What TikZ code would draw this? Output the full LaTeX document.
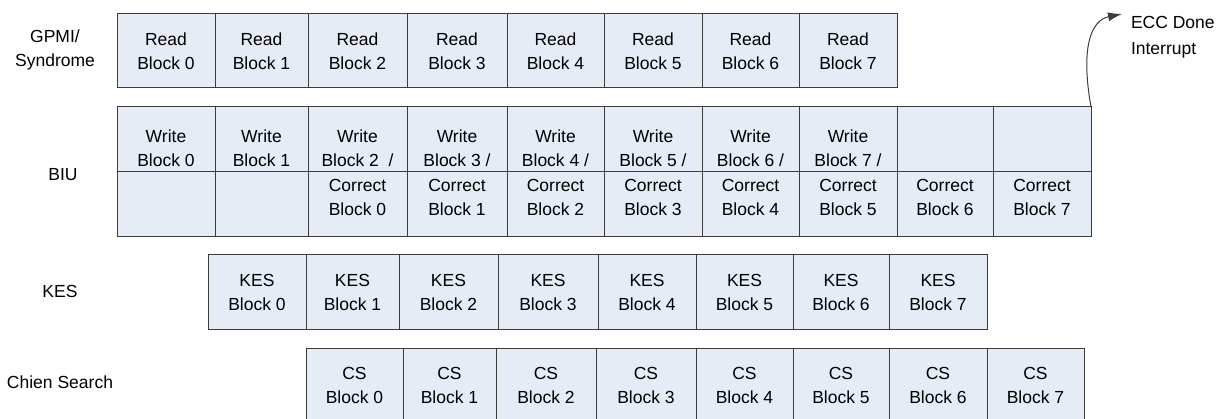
\documentclass[tikz,border=0pt]{standalone}
\usepackage{fontspec}
\setmainfont{Liberation Sans}
\usetikzlibrary{arrows.meta}
\definecolor{cellfill}{RGB}{230,236,246}
\definecolor{edgecol}{RGB}{60,60,60}
\begin{document}
\begin{tikzpicture}[x=1pt,y=-1pt,
  cell/.style={draw=edgecol, line width=1pt, fill=cellfill, inner sep=0pt, outer sep=0pt,
    align=center, font=\fontsize{17.5}{24}\selectfont},
  txt/.style={inner sep=0pt, outer sep=0pt, align=center, font=\fontsize{17.5}{24}\selectfont},
  conn/.style={draw=edgecol, line width=1pt}
  ]
\useasboundingbox (0,0) rectangle (1225,419);
\clip (0,0) rectangle (1225,419);

% GPMI / Syndrome row
\foreach \i/\a/\b in {0/117/215,1/215/308,2/308/407,3/407/507,4/507/604,5/604/702,6/702/799,7/799/897}
  \node[cell, minimum width={(\b-\a)*1pt}, minimum height=74pt] (rd\i) at ({(\a+\b)/2},51) {Read\\Block \i};

% BIU row
\foreach \i/\a/\b in {0/117/215,1/215/308,2/308/407,3/407/507,4/507/604,5/604/702,6/702/799,7/799/897,8/897/993,9/993/1091}
  \node[cell, minimum width={(\b-\a)*1pt}, minimum height=130pt] (biu\i) at ({(\a+\b)/2},172) {};
\draw[conn] (biu0.west) -- (biu9.east);
\foreach \i in {0,1}
  \node[txt] (bw\i) at ([yshift=24pt]biu\i.center) {Write\\Block \i};
\node[txt] (bw2) at ([yshift=24pt]biu2.center) {Write\\Block 2\ \ /};
\foreach \i in {3,4,5,6,7}
  \node[txt] (bw\i) at ([yshift=24pt]biu\i.center) {Write\\Block \i\ /};
\foreach \i/\j in {2/0,3/1,4/2,5/3,6/4,7/5,8/6,9/7}
  \node[txt] (bc\i) at ([yshift=-25pt]biu\i.center) {Correct\\Block \j};

% KES row
\foreach \i/\a/\b in {0/208/306,1/306/399,2/399/498,3/498/598,4/598/696,5/696/793,6/793/889,7/889/987}
  \node[cell, minimum width={(\b-\a)*1pt}, minimum height=74pt] (kes\i) at ({(\a+\b)/2},292) {KES\\Block \i};

% Chien Search row
\foreach \i/\a/\b in {0/306/403,1/403/496,2/496/596,3/596/696,4/696/793,5/793/889,6/889/987,7/987/1084}
  \node[cell, minimum width={(\b-\a)*1pt}, minimum height=74pt] (cs\i) at ({(\a+\b)/2},385) {CS\\Block \i};

% Row labels
\node[txt] (lgpmi) at (55,50) {GPMI/\\Syndrome};
\node[txt] (lbiu) at (63,175) {BIU};
\node[txt] (lkes) at (60,291) {KES};
\node[txt] (lcs) at (60,382) {Chien Search};

% ECC done interrupt
\node[txt, align=left, anchor=west, font=\fontsize{17.5}{26}\selectfont] (ecc) at (1131,37) {ECC Done\\Interrupt};
\coordinate (tip) at (1122,14);
\draw[conn, -{Latex[length=14pt,width=9pt]}] (biu9.north east) .. controls (1080,45) and (1092,20) .. (tip);
\end{tikzpicture}
\end{document}
